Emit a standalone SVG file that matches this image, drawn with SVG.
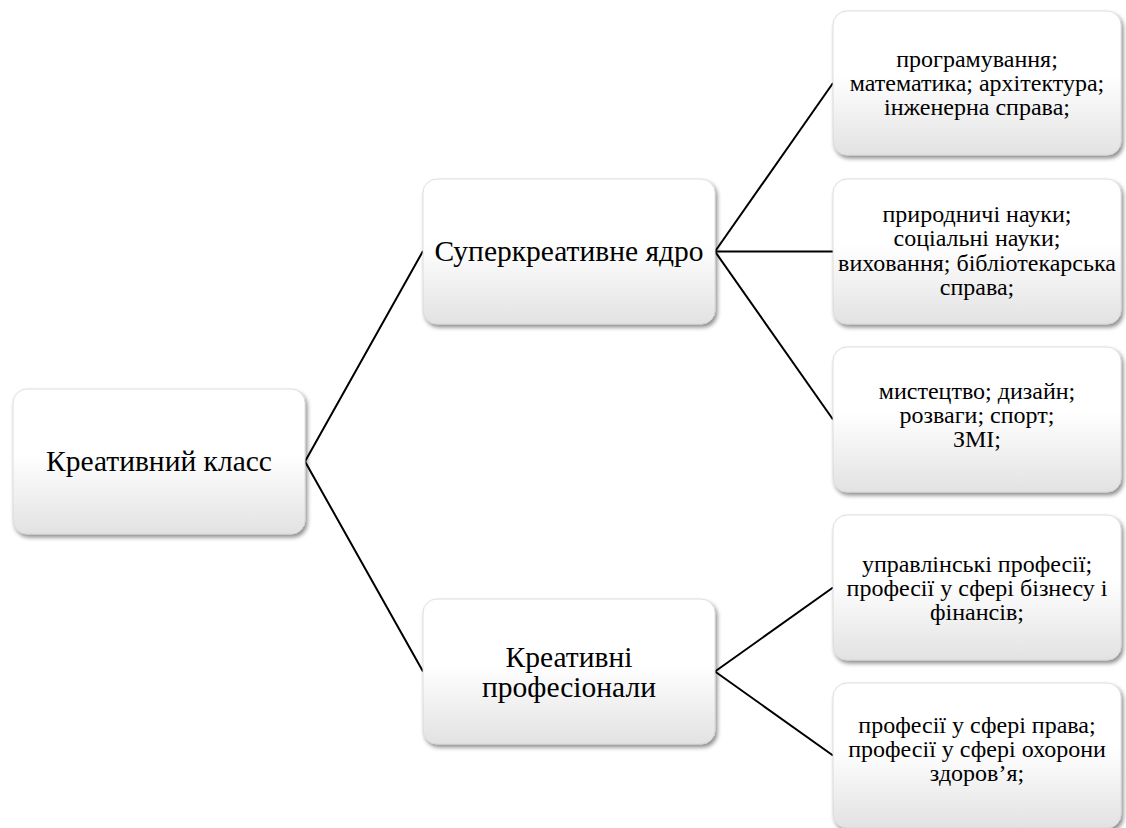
<svg xmlns="http://www.w3.org/2000/svg" width="1126" height="828" viewBox="0 0 1126 828">
  <style>
    .box { fill: url(#boxFill); stroke: #d6d6d6; stroke-width: 0.8; filter: url(#shadow); }
    text { font-family: 'Liberation Serif', 'Times New Roman', serif; fill: #000; text-anchor: middle; }
    .big { font-size: 29.5px; }
    .small { font-size: 24px; }
    .link { stroke: #000; stroke-width: 2; fill: none; }
  </style>
  <defs>
    <linearGradient id="boxFill" x1="0" y1="0" x2="0" y2="1">
      <stop offset="0" stop-color="#ffffff"/>
      <stop offset="0.45" stop-color="#ffffff"/>
      <stop offset="1" stop-color="#e2e2e2"/>
    </linearGradient>
    <filter id="shadow" x="-10%" y="-10%" width="125%" height="130%">
      <feDropShadow dx="2" dy="3" stdDeviation="2" flood-color="#000" flood-opacity="0.45"/>
    </filter>
  </defs>
  <rect width="1126" height="828" fill="#ffffff"/>

  <!-- connectors -->
  <g id="connectors">
    <polyline class="link" points="423,251 305,461.5 423,671.5"/>
    <line class="link" x1="715" y1="251.5" x2="833" y2="83"/>
    <line class="link" x1="715" y1="251.5" x2="833" y2="251.5"/>
    <line class="link" x1="715" y1="251.5" x2="833" y2="419.5"/>
    <line class="link" x1="715" y1="671.5" x2="833" y2="587.5"/>
    <line class="link" x1="715" y1="671.5" x2="833" y2="755.5"/>
  </g>

  <!-- root -->
  <g id="node-root">
    <rect class="box" x="13" y="389" width="292" height="145" rx="14"/>
    <text class="big" x="159" y="471">Креативний класс</text>
  </g>

  <!-- second level -->
  <g id="node-core">
    <rect class="box" x="423" y="179" width="292" height="145" rx="14"/>
    <text class="big" x="569" y="261">Суперкреативне ядро</text>
  </g>
  <g id="node-professionals">
    <rect class="box" x="423" y="599" width="292" height="145" rx="14"/>
    <text class="big" x="569" y="667">Креативні</text>
    <text class="big" x="569" y="697">професіонали</text>
  </g>

  <!-- leaves -->
  <g id="node-tech">
    <rect class="box" x="833" y="11" width="288" height="144" rx="14"/>
    <text class="small" x="977" y="67">програмування;</text>
    <text class="small" x="977" y="91">математика; архітектура;</text>
    <text class="small" x="977" y="115">інженерна справа;</text>
  </g>
  <g id="node-science">
    <rect class="box" x="833" y="179" width="288" height="145" rx="14"/>
    <text class="small" x="977" y="222">природничі науки;</text>
    <text class="small" x="977" y="246">соціальні науки;</text>
    <text class="small" x="977" y="271">виховання; бібліотекарська</text>
    <text class="small" x="977" y="295">справа;</text>
  </g>
  <g id="node-arts">
    <rect class="box" x="833" y="347" width="288" height="145" rx="14"/>
    <text class="small" x="977" y="399">мистецтво; дизайн;</text>
    <text class="small" x="977" y="423">розваги; спорт;</text>
    <text class="small" x="977" y="447">ЗМІ;</text>
  </g>
  <g id="node-business">
    <rect class="box" x="833" y="515" width="288" height="145" rx="14"/>
    <text class="small" x="977" y="572">управлінські професії;</text>
    <text class="small" x="977" y="596">професії у сфері бізнесу і</text>
    <text class="small" x="977" y="620">фінансів;</text>
  </g>
  <g id="node-law">
    <rect class="box" x="833" y="683" width="288" height="145" rx="14"/>
    <text class="small" x="977" y="733">професії у сфері права;</text>
    <text class="small" x="977" y="757">професії у сфері охорони</text>
    <text class="small" x="977" y="781">здоров’я;</text>
  </g>
</svg>
